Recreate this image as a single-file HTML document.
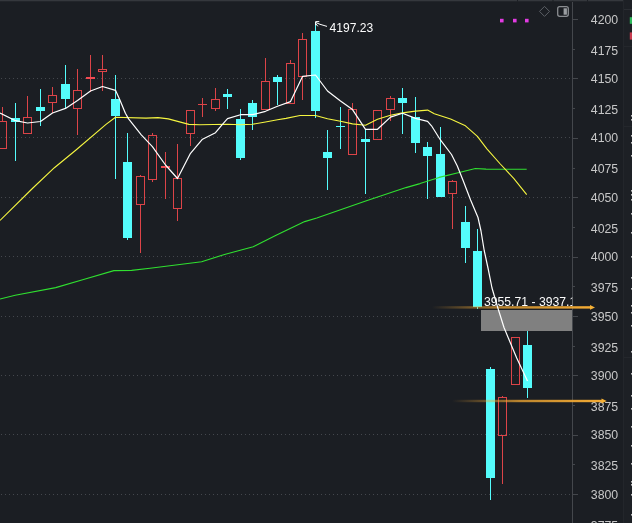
<!DOCTYPE html>
<html><head><meta charset="utf-8"><title>chart</title>
<style>
html,body{margin:0;padding:0;background:#1b1e23;}
body{width:632px;height:523px;overflow:hidden;position:relative;font-family:"Liberation Sans",sans-serif;}
svg{position:absolute;left:0;top:0;display:block;will-change:transform}
text{font-family:"Liberation Sans",sans-serif;}
</style></head><body>
<svg width="632" height="523" viewBox="0 0 632 523">
<defs>
<linearGradient id="g1" x1="0" y1="0" x2="1" y2="0"><stop offset="0" stop-color="#f2a832" stop-opacity="0"/><stop offset="0.45" stop-color="#f2a832" stop-opacity="0.75"/><stop offset="1" stop-color="#f5ac34" stop-opacity="1"/></linearGradient>
<clipPath id="plot"><rect x="0" y="0" width="572.3" height="523"/></clipPath>
</defs>
<rect x="0" y="0" width="632" height="523" fill="#1b1e23"/>

<rect x="623.5" y="0" width="9" height="523" fill="#1d2025"/>
<rect x="623" y="0" width="1" height="523" fill="#23262b"/>
<rect x="0" y="0" width="623" height="1.3" fill="#35383d"/>
<rect x="517" y="0" width="1" height="1.5" fill="#1b1e23"/>
<rect x="552.5" y="0" width="1" height="1.5" fill="#1b1e23"/>
<rect x="587" y="0" width="1" height="1.5" fill="#1b1e23"/>
<g stroke="#44474d" stroke-width="1" stroke-dasharray="1 3" shape-rendering="crispEdges">
<line x1="1" y1="78.5" x2="572" y2="78.5"/>
<line x1="1" y1="137.5" x2="572" y2="137.5"/>
<line x1="1" y1="197.5" x2="572" y2="197.5"/>
<line x1="1" y1="256.5" x2="572" y2="256.5"/>
<line x1="1" y1="316.5" x2="572" y2="316.5"/>
<line x1="1" y1="375.5" x2="572" y2="375.5"/>
<line x1="1" y1="434.5" x2="572" y2="434.5"/>
<line x1="1" y1="494.5" x2="572" y2="494.5"/>
</g>
<g stroke="#44474c" stroke-width="1" shape-rendering="crispEdges">
<line x1="572.5" y1="2" x2="572.5" y2="523"/>
<line x1="572" y1="19.5" x2="578" y2="19.5"/>
<line x1="572" y1="49.5" x2="575" y2="49.5"/>
<line x1="572" y1="78.5" x2="578" y2="78.5"/>
<line x1="572" y1="108.5" x2="575" y2="108.5"/>
<line x1="572" y1="138.5" x2="578" y2="138.5"/>
<line x1="572" y1="168.5" x2="575" y2="168.5"/>
<line x1="572" y1="197.5" x2="578" y2="197.5"/>
<line x1="572" y1="227.5" x2="575" y2="227.5"/>
<line x1="572" y1="257.5" x2="578" y2="257.5"/>
<line x1="572" y1="286.5" x2="575" y2="286.5"/>
<line x1="572" y1="316.5" x2="578" y2="316.5"/>
<line x1="572" y1="346.5" x2="575" y2="346.5"/>
<line x1="572" y1="375.5" x2="578" y2="375.5"/>
<line x1="572" y1="405.5" x2="575" y2="405.5"/>
<line x1="572" y1="435.5" x2="578" y2="435.5"/>
<line x1="572" y1="464.5" x2="575" y2="464.5"/>
<line x1="572" y1="494.5" x2="578" y2="494.5"/>
<line x1="572" y1="524.5" x2="575" y2="524.5"/>
</g>
<g fill="#c9c9c9" font-size="12.3px" text-anchor="end" opacity="0.99">
<text x="618.2" y="23.6">4200</text>
<text x="618.2" y="54.5">4175</text>
<text x="618.2" y="83.0">4150</text>
<text x="618.2" y="113.9">4125</text>
<text x="618.2" y="142.4">4100</text>
<text x="618.2" y="173.3">4075</text>
<text x="618.2" y="201.8">4050</text>
<text x="618.2" y="232.7">4025</text>
<text x="618.2" y="261.2">4000</text>
<text x="618.2" y="292.1">3975</text>
<text x="618.2" y="320.6">3950</text>
<text x="618.2" y="351.5">3925</text>
<text x="618.2" y="380.0">3900</text>
<text x="618.2" y="410.9">3875</text>
<text x="618.2" y="439.4">3850</text>
<text x="618.2" y="470.3">3825</text>
<text x="618.2" y="498.8">3800</text>
<text x="618.2" y="529.7">3775</text>
</g>
<g shape-rendering="crispEdges">
<rect x="2" y="107" width="1" height="14" fill="#dc4448"/>
<rect x="-1.5" y="121.5" width="8" height="27" fill="none" stroke="#dc4448" stroke-width="1"/>
<rect x="15" y="103" width="1" height="58" fill="#54fcfc"/>
<rect x="11" y="118" width="9" height="4" fill="#54fcfc"/>
<rect x="27" y="96" width="1" height="21" fill="#dc4448"/>
<rect x="23.5" y="117.5" width="8" height="16" fill="none" stroke="#dc4448" stroke-width="1"/>
<rect x="40" y="89" width="1" height="37" fill="#54fcfc"/>
<rect x="36" y="107" width="9" height="4" fill="#54fcfc"/>
<rect x="52" y="87" width="1" height="8" fill="#dc4448"/>
<rect x="52" y="103" width="1" height="10" fill="#dc4448"/>
<rect x="48.5" y="95.5" width="8" height="7" fill="none" stroke="#dc4448" stroke-width="1"/>
<rect x="65" y="65" width="1" height="43" fill="#54fcfc"/>
<rect x="61" y="84" width="9" height="15" fill="#54fcfc"/>
<rect x="77" y="69" width="1" height="21" fill="#dc4448"/>
<rect x="77" y="109" width="1" height="26" fill="#dc4448"/>
<rect x="73.5" y="90.5" width="8" height="18" fill="none" stroke="#dc4448" stroke-width="1"/>
<rect x="90" y="55" width="1" height="37" fill="#dc4448"/>
<rect x="86" y="77" width="9" height="2" fill="#f04a52"/>
<rect x="102" y="55" width="1" height="14" fill="#dc4448"/>
<rect x="102" y="72" width="1" height="19" fill="#dc4448"/>
<rect x="98.5" y="69.5" width="8" height="2" fill="none" stroke="#dc4448" stroke-width="1"/>
<rect x="115" y="75" width="1" height="104" fill="#54fcfc"/>
<rect x="111" y="99" width="9" height="17" fill="#54fcfc"/>
<rect x="127" y="133" width="1" height="107" fill="#54fcfc"/>
<rect x="123" y="162" width="9" height="76" fill="#54fcfc"/>
<rect x="140" y="175" width="1" height="1" fill="#dc4448"/>
<rect x="140" y="205" width="1" height="48" fill="#dc4448"/>
<rect x="136.5" y="176.5" width="8" height="28" fill="none" stroke="#dc4448" stroke-width="1"/>
<rect x="152" y="133" width="1" height="2" fill="#dc4448"/>
<rect x="152" y="180" width="1" height="2" fill="#dc4448"/>
<rect x="148.5" y="135.5" width="8" height="44" fill="none" stroke="#dc4448" stroke-width="1"/>
<rect x="165" y="152" width="1" height="47" fill="#dc4448"/>
<rect x="161" y="166" width="9" height="2" fill="#f04a52"/>
<rect x="177" y="144" width="1" height="34" fill="#dc4448"/>
<rect x="177" y="209" width="1" height="12" fill="#dc4448"/>
<rect x="173.5" y="178.5" width="8" height="30" fill="none" stroke="#dc4448" stroke-width="1"/>
<rect x="190" y="134" width="1" height="12" fill="#dc4448"/>
<rect x="186.5" y="110.5" width="8" height="23" fill="none" stroke="#dc4448" stroke-width="1"/>
<rect x="202" y="98" width="1" height="19" fill="#dc4448"/>
<rect x="198" y="104" width="9" height="1" fill="#dc4448"/>
<rect x="215" y="88" width="1" height="11" fill="#dc4448"/>
<rect x="215" y="109" width="1" height="2" fill="#dc4448"/>
<rect x="211.5" y="99.5" width="8" height="9" fill="none" stroke="#dc4448" stroke-width="1"/>
<rect x="227" y="89" width="1" height="20" fill="#54fcfc"/>
<rect x="223" y="94" width="9" height="3" fill="#54fcfc"/>
<rect x="240" y="109" width="1" height="51" fill="#54fcfc"/>
<rect x="236" y="119" width="9" height="39" fill="#54fcfc"/>
<rect x="252" y="100" width="1" height="30" fill="#54fcfc"/>
<rect x="248" y="103" width="9" height="14" fill="#54fcfc"/>
<rect x="265" y="58" width="1" height="23" fill="#dc4448"/>
<rect x="261.5" y="81.5" width="8" height="28" fill="none" stroke="#dc4448" stroke-width="1"/>
<rect x="277" y="75" width="1" height="30" fill="#54fcfc"/>
<rect x="273" y="77" width="9" height="5" fill="#54fcfc"/>
<rect x="290" y="60" width="1" height="3" fill="#dc4448"/>
<rect x="286.5" y="63.5" width="8" height="40" fill="none" stroke="#dc4448" stroke-width="1"/>
<rect x="302" y="33" width="1" height="6" fill="#dc4448"/>
<rect x="302" y="77" width="1" height="23" fill="#dc4448"/>
<rect x="298.5" y="39.5" width="8" height="37" fill="none" stroke="#dc4448" stroke-width="1"/>
<rect x="315" y="22" width="1" height="96" fill="#54fcfc"/>
<rect x="311" y="31" width="9" height="80" fill="#54fcfc"/>
<rect x="327" y="130" width="1" height="60" fill="#54fcfc"/>
<rect x="323" y="152" width="9" height="6" fill="#54fcfc"/>
<rect x="340" y="107" width="1" height="42" fill="#54fcfc"/>
<rect x="336" y="126" width="9" height="1" fill="#54fcfc"/>
<rect x="352" y="103" width="1" height="6" fill="#dc4448"/>
<rect x="348.5" y="109.5" width="8" height="45" fill="none" stroke="#dc4448" stroke-width="1"/>
<rect x="365" y="130" width="1" height="64" fill="#54fcfc"/>
<rect x="361" y="139" width="9" height="3" fill="#54fcfc"/>
<rect x="373.5" y="110.5" width="8" height="29" fill="none" stroke="#dc4448" stroke-width="1"/>
<rect x="390" y="96" width="1" height="2" fill="#dc4448"/>
<rect x="390" y="110" width="1" height="11" fill="#dc4448"/>
<rect x="386.5" y="98.5" width="8" height="11" fill="none" stroke="#dc4448" stroke-width="1"/>
<rect x="402" y="88" width="1" height="46" fill="#54fcfc"/>
<rect x="398" y="98" width="9" height="5" fill="#54fcfc"/>
<rect x="415" y="97" width="1" height="56" fill="#54fcfc"/>
<rect x="411" y="117" width="9" height="26" fill="#54fcfc"/>
<rect x="427" y="142" width="1" height="57" fill="#54fcfc"/>
<rect x="423" y="147" width="9" height="9" fill="#54fcfc"/>
<rect x="440" y="127" width="1" height="70" fill="#54fcfc"/>
<rect x="436" y="154" width="9" height="43" fill="#54fcfc"/>
<rect x="452" y="180" width="1" height="1" fill="#dc4448"/>
<rect x="452" y="194" width="1" height="35" fill="#dc4448"/>
<rect x="448.5" y="181.5" width="8" height="12" fill="none" stroke="#dc4448" stroke-width="1"/>
<rect x="465" y="206" width="1" height="57" fill="#54fcfc"/>
<rect x="461" y="222" width="9" height="26" fill="#54fcfc"/>
<rect x="477" y="229" width="1" height="80" fill="#54fcfc"/>
<rect x="473" y="251" width="9" height="56" fill="#54fcfc"/>
<rect x="490" y="367" width="1" height="133" fill="#54fcfc"/>
<rect x="486" y="369" width="9" height="109" fill="#54fcfc"/>
<rect x="502" y="396" width="1" height="1" fill="#dc4448"/>
<rect x="502" y="436" width="1" height="48" fill="#dc4448"/>
<rect x="498.5" y="397.5" width="8" height="38" fill="none" stroke="#dc4448" stroke-width="1"/>
<rect x="511.5" y="337.5" width="8" height="47" fill="none" stroke="#dc4448" stroke-width="1"/>
<rect x="527" y="331" width="1" height="67" fill="#54fcfc"/>
<rect x="523" y="345" width="9" height="43" fill="#54fcfc"/>
</g>
<rect x="481" y="310" width="91" height="21" fill="#808080"/>
<rect x="432" y="306.2" width="159" height="2.4" fill="url(#g1)"/>
<path d="M590,305 L595,307.4 L590,309.8 Z" fill="#f7b236"/>
<rect x="452" y="399.8" width="150.5" height="2.4" fill="url(#g1)"/>
<path d="M601.5,398.5 L606.7,401 L601.5,403.5 Z" fill="#f7b236"/>
<path d="M0,299 L15.2,295.2 L55.7,287.6 L83.5,279.5 L113.9,270.6 L131.6,270.4 L150,268.3 L201.6,261.7 L224.5,254.5 L253.2,246.8 L276.1,235.3 L304.7,221.6 L316.8,218 L365.7,201 L406,187.6 L420,183.6 L439.1,177.4 L460.2,172.3 L475.4,168.5 L486,169.1 L526.7,169.3" fill="none" stroke="#30e030" stroke-width="1.1" stroke-linejoin="round"/>
<path d="M0,220.4 L32.9,188 L54.4,167.7 L76,150 L106,124.4 L115.5,117.3 L146,118.1 L158,117.6 L168.3,118.9 L188.9,124.4 L200,124.7 L227.5,124.3 L240.5,124.8 L252.5,124.3 L265.5,122 L277.5,119.8 L286,118.4 L300,115.5 L315.5,115.5 L327.5,118.8 L340.5,121.3 L352.5,123.9 L365.5,125.2 L377.5,119.3 L390.5,115.2 L402.5,112.9 L415.5,111.1 L427.6,110.1 L434.3,113.8 L450.6,119.1 L464.9,125.4 L477.4,136.3 L486.9,148.8 L500.3,164 L513.7,178.4 L526.7,194.6" fill="none" stroke="#f6f640" stroke-width="1.1" stroke-linejoin="round"/>
<path d="M0,113 L15.5,120.7 L27.5,123 L40.5,121.5 L52.5,113 L65.5,108.4 L77.5,100.5 L90.5,91 L102.5,86.5 L115.5,90.3 L119.8,99.8 L125.4,113.3 L128.6,118.9 L141.3,134.8 L152.4,146.7 L165.5,165 L177.5,178.5 L190.5,153.3 L202.5,139.2 L215.5,132.7 L222,124.8 L227.5,118.6 L240.5,114.7 L252.5,114.7 L265.5,111.3 L277.5,106.3 L290.5,101.6 L302.5,76.4 L315.5,75 L327.5,91 L340.5,101 L352.5,109.6 L365.5,129.3 L377.5,129.3 L390.5,117.1 L402.5,113.2 L415.5,118.4 L427.6,121.4 L431.5,125.8 L440.6,140.2 L451.5,154.5 L457.3,166 L463,180.3 L470.6,200 L478,217.5 L481,231 L484.2,250.5 L488.1,268.5 L492,288 L497.4,306.5 L504,327.5 L510,342 L516.7,358 L527.5,381" fill="none" stroke="#ffffff" stroke-width="1.2" stroke-linejoin="round"/>
<g clip-path="url(#plot)" opacity="0.99"><text x="484" y="306" font-size="12.2px" fill="#ffffff">3955.71 - 3937.12</text></g>
<text x="329.6" y="32" font-size="12.05px" fill="#ffffff" opacity="0.99">4197.23</text>
<path d="M315.6,25.2 L315.6,21.6 L319.3,21.6 M316,22.6 L320,24.3 L327,26.4 M316,24 L317.8,26.3" fill="none" stroke="#ffffff" stroke-width="1"/>
<rect x="500" y="18.8" width="3.6" height="3.6" fill="#e23be2"/>
<rect x="513" y="18.8" width="3.6" height="3.6" fill="#e23be2"/>
<rect x="525" y="18.8" width="3.6" height="3.6" fill="#e23be2"/>
<path d="M544.5,6.4 L549.5,11.4 L544.5,16.4 L539.5,11.4 Z" fill="none" stroke="#5c6066" stroke-width="1"/>
<rect x="557.7" y="6.7" width="10.6" height="9.6" rx="2" ry="2" fill="none" stroke="#8a8d91" stroke-width="1.3"/>
<rect x="563.6" y="8.3" width="3.3" height="6.4" fill="#9a9da1"/>
<rect x="629.8" y="17.2" width="2.2" height="6.6" fill="#2dba5a"/>
<rect x="629.8" y="32.4" width="2.2" height="7.2" fill="#c83c50"/>
<rect x="624" y="9" width="8" height="1" fill="#2a2d32"/>
<rect x="631" y="115" width="1" height="1.6" fill="#bdbdbd"/>
<rect x="631" y="119" width="1" height="1.6" fill="#bdbdbd"/>
<rect x="631" y="135" width="1" height="1.6" fill="#bdbdbd"/>
<rect x="631" y="142" width="1" height="1.6" fill="#bdbdbd"/>
<rect x="631" y="155" width="1" height="1.6" fill="#bdbdbd"/>
<rect x="631" y="190" width="1" height="1.6" fill="#bdbdbd"/>
<rect x="631" y="194" width="1" height="1.6" fill="#bdbdbd"/>
<rect x="631" y="199" width="1" height="1.6" fill="#bdbdbd"/>
<rect x="631" y="213" width="1" height="1.6" fill="#bdbdbd"/>
<rect x="631" y="232" width="1" height="1.6" fill="#bdbdbd"/>
<rect x="631" y="256" width="1" height="1.6" fill="#bdbdbd"/>
<rect x="631" y="277" width="1" height="1.6" fill="#bdbdbd"/>
<rect x="631" y="288" width="1" height="1.6" fill="#bdbdbd"/>
<rect x="631" y="305" width="1" height="1.6" fill="#bdbdbd"/>
<rect x="631" y="312" width="1" height="1.6" fill="#bdbdbd"/>
<rect x="631" y="325" width="1" height="1.6" fill="#bdbdbd"/>
<rect x="631" y="351" width="1" height="1.6" fill="#bdbdbd"/>
<rect x="631" y="373" width="1" height="1.6" fill="#bdbdbd"/>
<rect x="631" y="395" width="1" height="1.6" fill="#bdbdbd"/>
<rect x="631" y="408" width="1" height="1.6" fill="#bdbdbd"/>
<rect x="631" y="426" width="1" height="1.6" fill="#bdbdbd"/>
<rect x="631" y="445" width="1" height="1.6" fill="#bdbdbd"/>
<rect x="631" y="463" width="1" height="1.6" fill="#bdbdbd"/>
<rect x="631" y="481" width="1" height="1.6" fill="#bdbdbd"/>
<rect x="631" y="484" width="1" height="1.6" fill="#bdbdbd"/>
<rect x="631" y="494" width="1" height="1.6" fill="#bdbdbd"/>
<rect x="631" y="514" width="1" height="1.6" fill="#bdbdbd"/>
<rect x="624" y="126" width="8" height="1" fill="#24272c"/>
<rect x="624" y="357" width="8" height="1" fill="#24272c"/>
<rect x="624" y="46" width="8" height="1" fill="#24272c"/>
</svg></body></html>
